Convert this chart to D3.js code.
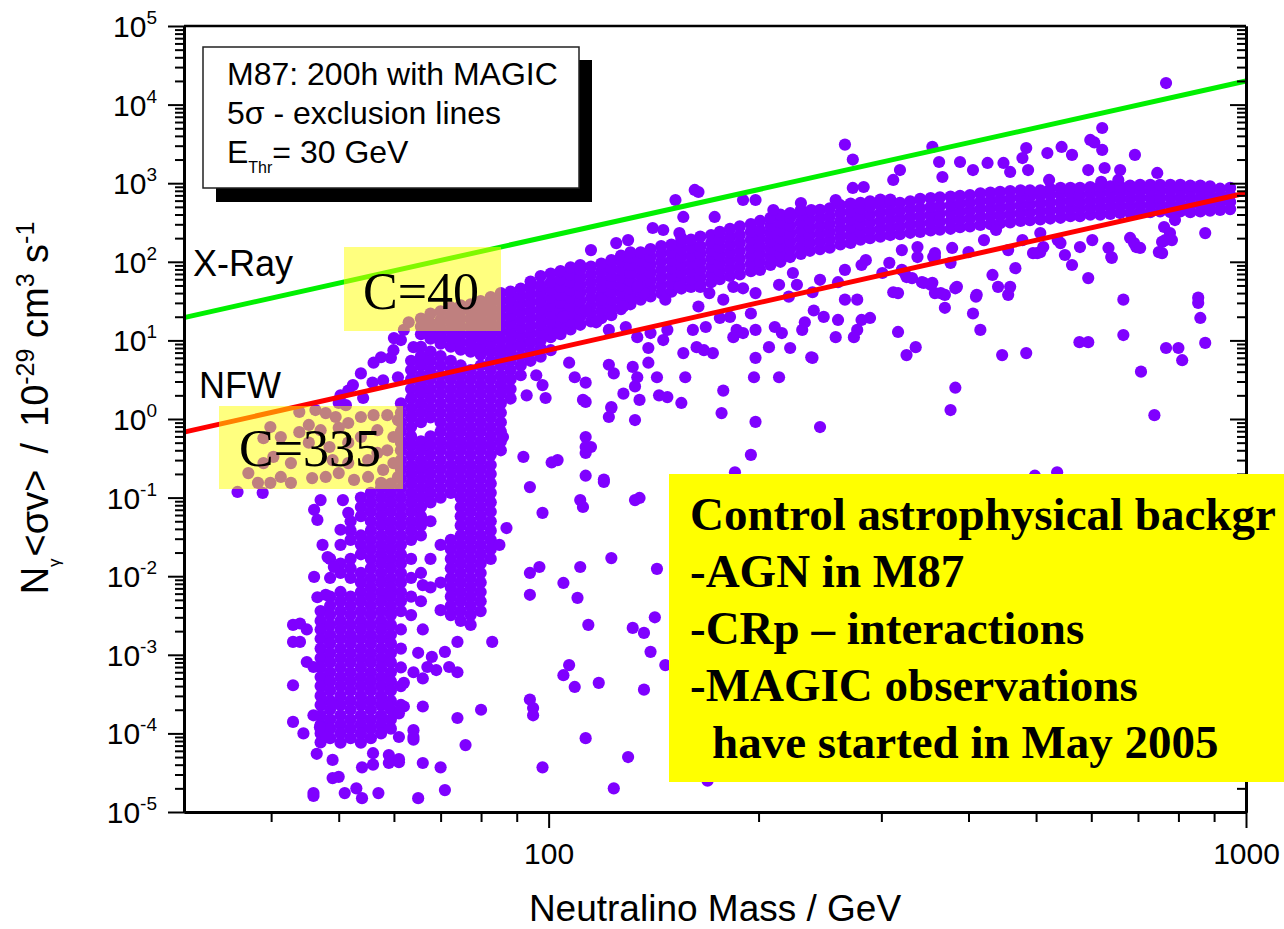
<!DOCTYPE html>
<html>
<head>
<meta charset="utf-8">
<script src="https://cdn.jsdelivr.net/npm/d3@7"></script>
<style>
  body { margin: 0; background: #fff; }
  svg { display: block; font-family: "Liberation Sans", Arial, sans-serif; }
</style>
</head>
<body>
<svg id="chart" width="1284" height="929"></svg>
<script>
// ---------------- data ----------------
// Neutralino mass (GeV) and N_gamma <sigma v> (10^-29 cm^3 s^-1)

// dense upper band: [mass, [values ...]]
const upperBand = [
  [65.6,[12,15,19]],
  [67.7,[10.5,13.2,16.6,21.9]],
  [70.0,[9.1,11.5,14.5,18.2,23.4]],
  [72.4,[8.3,10.5,13.2,16.6,20.9,26.3]],
  [74.8,[7.6,9.5,12,15.1,19.1,24,28]],
  [77.3,[7.2,9.1,11.5,14.5,18.2,22.9,28.8]],
  [79.9,[6.6,8.3,10.5,13.2,16.6,20.9,26.3,31.6]],
  [82.6,[7.2,9.1,11.5,14.5,18.2,22.9,28.8,35.5]],
  [85.4,[7.9,10,12.6,15.8,20,25,31.6,40]],
  [88.2,[8.3,10.5,13.2,16.6,20.9,26.3,33,41.7]],
  [91.2,[9.1,11.5,14.5,18.2,22.9,28.8,36.3,45.7]],
  [94.2,[9.5,12,15.1,19.1,24,30.2,38,47.9,56]],
  [97.4,[10,12.6,15.8,20,25,31.6,40,50,66]],
  [100.7,[11,13.8,17.4,21.9,27.5,34.7,43.7,55,71]],
  [104,[12,15.1,19.1,24,30.2,38,47.9,60,76]],
  [107.5,[13.8,17.4,21.9,27.5,34.7,43.7,55,69,85]],
  [111,[15.8,20,25,31.6,40,50,63,79,91]],
  [115,[17.4,21.9,27.5,34.7,43.7,55,69,87]],
  [119,[19.1,24,30.2,38,47.9,60,76,95]],
  [123,[20.9,26.3,33,41.7,52.5,66,83,105]],
  [127,[25,31.6,40,50,63,79,100,120]],
  [131,[28.8,36.3,45.7,57.5,72.4,91,115,132]],
  [135.5,[33,41.7,52.5,66,83,105,132]],
  [140,[36.3,45.7,57.5,72.4,91,115,145]],
  [145,[40,50,63,79,100,126,158]],
  [150,[41.7,52.5,66,83,105,132,166]],
  [155,[45.7,57.5,72.4,91,115,145,182,200]],
  [160,[47.9,60,76,95,120,151,191]],
  [165,[50,63,79,100,126,158,209]],
  [171,[55,69,87,110,138,174,219]],
  [176,[60,76,95,120,151,191,240]],
  [182,[66,83,105,132,166,209,263]],
  [188,[69,87,110,138,174,219,282]],
  [195,[76,95,120,151,191,240,302]],
  [201,[79,100,126,158,200,251,331]],
  [208,[91,115,145,182,229,288,363]],
  [215,[100,126,158,200,251,316,398]],
  [222,[115,145,182,229,288,363,417]],
  [230,[126,158,200,251,316,398,457]],
  [237,[138,174,219,275,347,437]],
  [245,[145,182,229,288,363,457]],
  [253,[151,191,240,302,380,479]],
  [262,[166,209,263,331,417,525]],
  [271,[174,219,275,347,437,550]],
  [280,[191,240,302,380,479,562]],
  [289,[200,251,316,398,501,589]],
  [299,[209,263,331,417,525,617]],
  [309,[219,275,347,437,550,617]],
  [319,[224,282,355,447,562]],
  [330,[234,295,372,468,589]],
  [341,[240,302,380,479,631]],
  [353,[251,316,398,501,646]],
  [364,[257,324,407,513,661]],
  [377,[263,331,417,525,676]],
  [389,[275,347,437,550,692]],
  [402,[282,355,447,562,708]],
  [416,[295,372,468,589,741]],
  [430,[302,380,479,603,759]],
  [444,[309,389,490,617,776]],
  [459,[316,398,501,631,794]],
  [475,[331,417,525,661,813]],
  [490,[339,427,537,676,813]],
  [507,[347,437,550,692,813]],
  [524,[355,447,562,708,851]],
  [542,[363,457,575,724,871]],
  [560,[380,479,603,759,871]],
  [578,[380,468,575,708,871]],
  [598,[398,490,603,741,891]],
  [618,[398,490,603,741,912]],
  [639,[407,501,617,759,912]],
  [660,[417,513,631,776,912]],
  [682,[417,513,631,776,933]],
  [705,[427,525,646,794,955]],
  [729,[427,525,646,794,955]],
  [753,[437,537,661,813,955]],
  [779,[427,525,646,794,955]],
  [805,[437,537,661,813,955]],
  [832,[427,525,646,794,933]],
  [860,[437,537,661,813,933]],
  [888,[447,550,676,832,912]],
  [918,[457,562,692,851]],
  [949,[468,575,708,871]]
];

// steep low-mass branch (funnel): [mass, [values ...]]
const funnelBand = [
  [47.1,[0.0036,0.0027,0.0021,0.0016,0.0012,0.00091,0.00069,0.00052,0.0004,0.0003,0.00023,0.00017,0.00013,0.0001,0.000077]],
  [48.6,[0.0166,0.0095,0.0055,0.0042,0.0032,0.0024,0.0018,0.0014,0.00105,0.0008,0.0006,0.00046,0.00035,0.00026,0.0002,0.00015,0.000115,0.000087]],
  [50.3,[0.025,0.0145,0.011,0.0063,0.0048,0.0036,0.0027,0.0021,0.0016,0.0012,0.00091,0.00069,0.00052,0.0004,0.0003,0.00023,0.00017,0.00013,0.0001,0.000076]],
  [52.0,[0.05,0.038,0.029,0.0166,0.0126,0.0095,0.0055,0.0042,0.0032,0.0024,0.0018,0.0014,0.00105,0.0008,0.0006,0.00046,0.00035,0.00026,0.0002,0.00015,0.000115,0.000087]],
  [53.8,[0.1,0.076,0.058,0.033,0.025,0.019,0.011,0.0083,0.0063,0.0048,0.0036,0.0027,0.0021,0.0016,0.0012,0.00091,0.00069,0.00052,0.0004,0.0003,0.00023,0.00017,0.00013,0.0001,0.000076]],
  [55.6,[0.115,0.087,0.066,0.05,0.038,0.029,0.022,0.0166,0.0126,0.0095,0.0072,0.0055,0.0042,0.0032,0.0024,0.0018,0.0014,0.00105,0.0008,0.0006,0.00046,0.00035,0.00026,0.0002,0.00015,0.000115,0.000087]],
  [57.5,[0.132,0.1,0.076,0.058,0.044,0.033,0.025,0.019,0.0145,0.011,0.0083,0.0063,0.0048,0.0036,0.0027,0.0021,0.0016,0.0012,0.00091,0.00069,0.00052,0.0004,0.0003,0.00023,0.00017,0.00013,0.0001]],
  [59.4,[0.151,0.115,0.087,0.066,0.05,0.038,0.029,0.022,0.0166,0.0126,0.0095,0.0072,0.0055,0.0042,0.0032,0.0024,0.0018,0.0014,0.00105,0.0008,0.0006,0.00046,0.00035,0.00026,0.0002,0.00015,0.000115]],
  [61.4,[1.58,1.2,0.91,0.69,0.52,0.4,0.3,0.23,0.174,0.132,0.1,0.076,0.058,0.044,0.033,0.025,0.019,0.0145,0.011,0.0083,0.0063,0.0048,0.0036,0.0021,0.0012,0.00069,0.0004,0.00023]],
  [63.5,[5.5,4.2,3.2,2.4,1.82,1.38,1.05,0.79,0.6,0.46,0.35,0.26,0.2,0.151,0.115,0.087,0.066,0.05,0.038,0.029,0.0166,0.0095,0.0055,0.0032]],
  [65.6,[8.3,6.3,4.8,3.6,2.75,2.1,1.58,1.2,0.91,0.52,0.4,0.3,0.23,0.174,0.132,0.1,0.076,0.058,0.044,0.033,0.011,0.0048]],
  [67.7,[7.2,5.5,4.2,3.2,2.4,1.82,1.38,1.05,0.6,0.46,0.35,0.26,0.2,0.151,0.115,0.087,0.05,0.0166,0.0072]],
  [70.0,[6.3,4.8,3.6,2.75,2.1,1.58,1.2,0.91,0.69,0.52,0.4,0.3,0.23,0.174,0.132,0.1,0.025,0.0083]],
  [72.4,[5.5,4.2,3.2,2.4,1.82,1.38,1.05,0.79,0.6,0.46,0.35,0.26,0.2,0.151,0.115,0.029,0.022,0.0166,0.0126,0.0095,0.0072,0.0055,0.0042,0.0032]],
  [74.8,[4.8,3.6,2.75,2.1,1.58,1.2,0.91,0.69,0.52,0.4,0.3,0.23,0.174,0.132,0.1,0.076,0.058,0.044,0.033,0.025,0.019,0.0145,0.011,0.0083,0.0063,0.0048,0.0036,0.0027]],
  [77.3,[4.2,3.2,2.4,1.82,1.38,1.05,0.79,0.6,0.46,0.35,0.26,0.2,0.151,0.115,0.087,0.066,0.05,0.038,0.029,0.022,0.0166,0.0126,0.0095,0.0072,0.0055,0.0042,0.0032,0.0024]],
  [79.9,[4.8,3.6,2.75,2.1,1.58,1.2,0.91,0.69,0.52,0.4,0.3,0.23,0.174,0.132,0.1,0.076,0.058,0.044,0.033,0.025,0.019,0.0145,0.011,0.0083,0.0063,0.0048,0.0036]],
  [82.6,[5.5,4.2,3.2,2.4,1.82,1.38,1.05,0.79,0.6,0.46,0.35,0.26,0.2,0.151,0.115,0.087,0.066,0.05,0.038,0.029,0.022,0.0166]],
  [85.4,[6.3,4.8,3.6,2.75,2.1,1.58,1.2,0.91,0.69,0.52,0.4]],
  [88.2,[7.2,5.5,4.2,3.2,2.4,1.82]],
  [91.2,[8.3,6.3,4.8,3.6]],
  [94.2,[9.5,7.2,5.5]],
  [97.4,[8,6.2]],
  [100.7,[7.5]]
];

// isolated models between the band and the X-ray line
const aboveBand = [
  [266,3100],[273,2000],[355,2900],[363,1860],[389,1860],[406,1470],[426,1810],[449,1810],
  [478,2090],[484,2800],[519,2420],[544,2890],[563,2290],[598,3550],[622,5040],[622,2650],
  [594,1470],[627,1560],[660,1470],[693,2290],[746,1350],[319,1470],[367,1200],[522,1100],
  [459,1390],[312,1100],[273,870],[283,895],[258,611],[162,820],[164,773],[152,611],[190,611],
  [198,611],[156,372],[173,372],[141,269],[146,254],[154,232],[125,173],[230,560],[238,456],
  [768,18800],[606,3300],[487,1470],[620,1040],[656,1100],[115,141],[130,189],[210,456]
];

// models below the band, around the NFW line
const belowBand = [
  [874,232],[696,154],[750,133],[641,115],[594,62],[550,122],[563,91],[507,133],[467,83],
  [441,48],[456,38],[433,68],[416,13.6],[406,22],[410,36],[383,46],[370,38],[370,26],[358,40],
  [355,54],[343,55],[358,115],[317,40],[326,64],[308,97],[289,19.3],[281,18.2],[277,13.6],
  [274,11],[266,33],[277,33],[258,11],[260,18.2],[248,19.9],[240,24],[233,17],[231,13.6],
  [222,8.0],[239,6.0],[216,12.4],[211,14.8],[207,8.2],[198,13.6],[198,6.0],[190,12.4],
  [186,13.6],[184,11],[195,22],[182,19.9],[176,19.3],[178,33],[172,6.9],[167,7.5],[163,8.2],
  [156,6.9],[161,13.6],[168,14.8],[148,13.6],[146,10.1],[140,12.4],[139,8.0],[134,11],
  [129,14.8],[122,13.6],[117,17],[107,5.2],[109,3.4],[113,2.9],[122,4.9],[124,3.8],[132,4.6],
  [134,3.4],[139,5.2],[143,3.4],[133,2.6],[128,2.1],[135,1.75],[144,2.0],[148,1.9],[155,1.6],
  [157,3.4],[113,1.65],[99,1.85],[123,1.42],[122,1.06],[133,0.97],[178,2.3],[177,1.19],
  [197,3.4],[198,0.92],[214,3.4],[245,0.79],[238,6.1],[326,6.5],[336,8.2],[317,12.8],[312,41],
  [383,2.5],[377,1.3],[447,6.5],[484,6.9],[577,9.5],[594,9.5],[667,33],[667,11.7],[707,4.0],
  [739,1.12],[768,8.0],[800,8.0],[810,5.6],[854,35],[854,30],[860,19.3],[874,9.3],[635,150],
  [691,173],[758,179],[791,340],[763,277],[778,232],[507,232],[537,189],[495,129],[421,189],
  [456,141],[400,133],[379,150],[358,129],[338,154],[321,141],[301,72],[321,79],[281,91],
  [285,105],[260,55],[266,79],[245,59],[239,41],[227,51],[221,36],[224,72],[214,51],[198,40],
  [190,46],[184,48],[165,48],[170,40],[164,27],[154,48],[147,33],[137,40],[134,48],[128,27],
  [119,33],[113,24],[105,19.9],[103,12.4],[438,254],[478,189],[682,201],[705,150],[766,189],
  [783,189],[758,129],[642,112],[602,189],[578,154],[542,173],[502,129],[512,154],[411,38],
  [385,48],[365,40],[353,51],[345,54],[332,62],[324,72],[377,97],[356,115],[338,115],[459,48]
];

// sparse models at low values, masses above ~85 GeV
const lowerRight = [
  [113,0.59],[113,0.44],[113,0.37],[103,0.30],[101,0.28],[195,0.35],[113,0.19],[120,0.17],
  [185,0.21],[536,0.21],[498,0.19],[135,0.099],[143,0.0124],[142,0.0030],[137,0.0019],
  [140,0.00109],[147,0.00074],[137,0.00036],[169,2.5e-5],[112,1.75],[123,1.38],[115,0.44],
  [120,0.158],[133,0.093],[111,0.093],[112,0.076],[98,0.064],[92,0.33],[86,0.59],[94,0.136],
  [87,0.041],[85,0.025],[123,0.017],[111,0.0131],[94,0.011],[97,0.0131],[105,0.0082],
  [94,0.0058],[110,0.0053],[114,0.0024],[132,0.0022],[83,0.00146],[107,0.00074],[105,0.00055],
  [109,0.00039],[118,0.00044],[94,0.00027],[95,0.00021],[95,0.00017],[80,0.0002],[74,0.000157],
  [113,8.7e-5],[130,5.0e-5],[98,3.7e-5],[124,2.0e-5],[96,3.6],[98,2.7],[93,2.0]
];

// sparse models at the low-mass, low-value end
const lowMassTail = [
  [76,7.1e-5],[71,1.9e-5],[70,3.7e-5],[66,4.2e-5],[65,1.5e-5],[72,0.0007],[69,0.00064],
  [66,0.0005],[66,0.00022],[64,0.00011],[64,9.0e-5],[62,0.00022],[61,9.0e-5],[61,0.00018],
  [61,4.3e-5],[59,5.3e-5],[57,1.74e-5],[56,5.6e-5],[56,4.0e-5],[54,3.7e-5],[54,1.5e-5],
  [53,2.0e-5],[51,1.74e-5],[49,2.7e-5],[49,4.6e-5],[48,9.0e-5],[46.5,5.5e-5],[46,1.74e-5],
  [44.5,1.0e-4],[43,1.4e-4],[43,4.1e-4],[45,0.00081],[46,0.0007],[43,0.00146],[44,0.00146],
  [43,0.0024],[44,0.0025],[45,0.0021],[46,0.00017],[46,1.6e-5],[47,0.00012],[49,0.00024],
  [50,2.8e-5],[59,4.2e-5],[61,4.7e-5],[64,8.3e-5],[74,0.0006],[71,0.00109],[74,0.00146],
  [68,0.00094],[65,0.00106],[67,0.0007],[64,0.0006],[62,0.00044],[59,0.00022],[66,0.0077],
  [70,0.0037],[66,0.0021]
];

// models around 35-65 GeV near the NFW line
const nearNfw = [
  [35.8,0.118],[38.9,0.115],[46.1,0.070],[47.1,0.093],[46.6,0.052],[47.4,0.025],[48.2,0.0175],
  [49.2,0.0131],[46.1,0.0098],[46.6,0.0054],[47.9,0.0058],[50.3,0.039],[51.6,0.064],[50.7,0.093],
  [43.9,1.23],[46.3,1.3],[47.9,1.19],[49.5,1.06],[45.3,0.84],[43.9,0.68],[47.1,0.72],[50.0,0.77],
  [51.6,0.89],[53.8,1.06],[56.1,1.12],[58.7,1.12],[60.8,0.97],[56.8,0.72],[59.9,0.59],[61.4,0.50],
  [58.7,0.40],[59.9,0.275],[57.9,0.225],[60.8,0.183],[55.1,0.183],[52.6,0.168],[50.0,0.205],
  [47.9,0.183],[45.8,0.177],[42.7,0.154],[41.3,0.183],[39.9,0.154],[38.3,0.154],[37.1,0.205],
  [39.0,0.275],[40.3,0.33],[42.7,0.275],[41.3,0.59],[39.0,0.57],[39.9,0.79],[45.3,0.50],
  [48.5,0.44],[51.6,0.50],[53.8,0.59],[55.1,0.30],[51.6,0.275],[49.0,0.30],[56.8,0.37],[57.5,0.154],
  [56.1,5.2],[57.5,6.1],[59.9,7.5],[64.0,8.2],[61.4,10.1],[53.8,3.8],[55.9,2.9],[57.9,3.1],
  [60.8,3.4],[51.6,2.3],[50.0,1.6],[59.4,6.0],[50.3,2.0],[52.4,2.7],[54.2,1.85],[51.2,1.5],
  [62,13.6],[60,10.7],[63,17]
];

// 5 sigma exclusion lines (end points)
const xrayLimit = [[30, 19.5], [1000, 20000]];
const nfwLimit  = [[30, 0.68], [1000, 750]];

// axis ticks
const yTickPowers = [-5, -4, -3, -2, -1, 0, 1, 2, 3, 4, 5];
const xTickLabels = [100, 1000];
const xMinorTicks = [40, 50, 60, 70, 80, 90, 200, 300, 400, 500, 600, 700, 800, 900];

// text blocks
const legendLines = ["M87: 200h with MAGIC", "5\u03c3 - exclusion lines"];
const noteLines = [
  "Control astrophysical backgr",
  "-AGN in M87",
  "-CRp \u2013 interactions",
  "-MAGIC observations",
  "have started in May 2005"
];

// ---------------- drawing ----------------
const SERIF = '"Liberation Serif", "Times New Roman", serif';
const svg = d3.select("#chart");
const x = d3.scaleLog().domain([30, 1000]).range([184, 1246]);
const y = d3.scaleLog().domain([1e-5, 1e5]).range([812, 26]);

const points = [];
[upperBand, funnelBand].forEach(cols =>
  cols.forEach(([m, vals]) => vals.forEach(v => points.push([m, v]))));
[aboveBand, belowBand, lowerRight, lowMassTail, nearNfw].forEach(arr =>
  arr.forEach(p => points.push(p)));

svg.append("g")
  .selectAll("circle")
  .data(points)
  .join("circle")
  .attr("cx", d => x(d[0]))
  .attr("cy", d => y(d[1]))
  .attr("r", 6.1)
  .attr("fill", "#7f00ff");

// exclusion lines
const line = d3.line().x(d => x(d[0])).y(d => y(d[1]));
svg.append("path").datum(xrayLimit).attr("d", line)
  .attr("fill", "none").attr("stroke", "#00f000").attr("stroke-width", 5);
svg.append("path").datum(nfwLimit).attr("d", line)
  .attr("fill", "none").attr("stroke", "#ff0000").attr("stroke-width", 5);

// axes
const yMajor = yTickPowers.map(p => Math.pow(10, p));
const yMinor = [];
yTickPowers.slice(0, -1).forEach(p => {
  for (let k = 2; k <= 9; k++) yMinor.push(k * Math.pow(10, p));
});

function frameAxis(g, width) {
  g.select(".domain").attr("stroke", "#000").attr("stroke-width", width);
  g.selectAll(".tick line").attr("stroke", "#000").attr("stroke-width", 2);
}

// left
svg.append("g").attr("transform", "translate(184,0)")
  .call(d3.axisLeft(y).tickValues(yMinor).tickSize(9).tickSizeOuter(0).tickFormat(""))
  .call(g => frameAxis(g, 3));
svg.append("g").attr("transform", "translate(184,0)")
  .call(d3.axisLeft(y).tickValues(yMajor).tickSize(16).tickSizeOuter(0).tickFormat(""))
  .call(g => frameAxis(g, 3));
// right (ticks pointing inward)
svg.append("g").attr("transform", "translate(1246,0)")
  .call(d3.axisLeft(y).tickValues(yMinor).tickSize(9).tickSizeOuter(0).tickFormat(""))
  .call(g => frameAxis(g, 3));
svg.append("g").attr("transform", "translate(1246,0)")
  .call(d3.axisLeft(y).tickValues(yMajor).tickSize(16).tickSizeOuter(0).tickFormat(""))
  .call(g => frameAxis(g, 3));
// bottom
svg.append("g").attr("transform", "translate(0,812)")
  .call(d3.axisBottom(x).tickValues(xMinorTicks).tickSize(10).tickSizeOuter(0).tickFormat(""))
  .call(g => frameAxis(g, 3));
svg.append("g").attr("transform", "translate(0,812)")
  .call(d3.axisBottom(x).tickValues(xTickLabels).tickSize(16).tickSizeOuter(0)
    .tickPadding(15).tickFormat(d3.format("d")))
  .call(g => frameAxis(g, 3))
  .call(g => g.selectAll("text")
    .attr("font-size", 30).attr("fill", "#000")
    .attr("font-family", '"Liberation Sans", Arial, sans-serif'));
// top frame
svg.append("line").attr("x1", 184).attr("x2", 1246).attr("y1", 26).attr("y2", 26)
  .attr("stroke", "#000").attr("stroke-width", 2.5);

// y tick labels with powers of ten
svg.append("g").selectAll("text")
  .data(yTickPowers)
  .join("text")
  .attr("x", 157)
  .attr("y", p => y(Math.pow(10, p)) + 11)
  .attr("text-anchor", "end")
  .attr("font-size", 30)
  .each(function (p) {
    const t = d3.select(this);
    t.append("tspan").text("10");
    t.append("tspan").attr("font-size", 19).attr("dy", -13).text(String(p));
  });

// axis titles
svg.append("text")
  .attr("x", 715).attr("y", 921)
  .attr("text-anchor", "middle")
  .attr("font-size", 37)
  .text("Neutralino Mass / GeV");

const yt = svg.append("text")
  .attr("transform", "translate(48,408) rotate(-90)")
  .attr("text-anchor", "middle")
  .attr("font-size", 38);
yt.append("tspan").text("N");
yt.append("tspan").attr("font-size", 17).attr("dy", 12).text("\u03b3");
yt.append("tspan").attr("dy", -12).attr("dx", 2).text("<\u03c3v>");
yt.append("tspan").attr("dx", 16).text("/");
yt.append("tspan").attr("dx", 16).text("10");
yt.append("tspan").attr("font-size", 25).attr("dy", -14).text("-29");
yt.append("tspan").attr("dy", 14).text(" cm");
yt.append("tspan").attr("font-size", 25).attr("dy", -14).text("3");
yt.append("tspan").attr("dy", 14).text(" s");
yt.append("tspan").attr("font-size", 25).attr("dy", -14).text("-1");

// line labels
svg.append("text").attr("x", 193).attr("y", 276).attr("font-size", 36).text("X-Ray");
svg.append("text").attr("x", 199).attr("y", 398).attr("font-size", 36).text("NFW");

// legend box with drop shadow
svg.append("rect").attr("x", 216).attr("y", 60).attr("width", 376).attr("height", 142).attr("fill", "#000");
svg.append("rect").attr("x", 203).attr("y", 47).attr("width", 376).attr("height", 141)
  .attr("fill", "#fff").attr("stroke", "#222").attr("stroke-width", 1.5);
svg.append("g").selectAll("text").data(legendLines).join("text")
  .attr("x", 227).attr("y", (d, i) => 85 + i * 39)
  .attr("font-size", 32).text(d => d);
const eth = svg.append("text").attr("x", 227).attr("y", 163).attr("font-size", 32);
eth.append("tspan").text("E");
eth.append("tspan").attr("font-size", 16).attr("dy", 10).text("Thr");
eth.append("tspan").attr("dy", -10).text("= 30 GeV");

// concentration labels on translucent boxes
const cBoxes = [
  { label: "C=40",  x: 344, y: 247, w: 157, h: 84, tx: 363, ty: 309 },
  { label: "C=335", x: 219, y: 406, w: 184, h: 83, tx: 239, ty: 466 }
];
svg.append("g").selectAll("rect").data(cBoxes).join("rect")
  .attr("x", d => d.x).attr("y", d => d.y).attr("width", d => d.w).attr("height", d => d.h)
  .attr("fill", "rgba(255,255,0,0.5)");
svg.append("g").selectAll("text").data(cBoxes).join("text")
  .attr("x", d => d.tx).attr("y", d => d.ty)
  .attr("font-family", SERIF)
  .attr("font-size", 52)
  .text(d => d.label);

// note box
svg.append("rect").attr("x", 669).attr("y", 474).attr("width", 615).attr("height", 308)
  .attr("fill", "#ffff00");
svg.append("g").selectAll("text").data(noteLines).join("text")
  .attr("x", (d, i) => i === 4 ? 712 : 690)
  .attr("y", (d, i) => 530 + i * 57)
  .attr("font-family", SERIF)
  .attr("font-weight", "bold")
  .attr("font-size", 47)
  .text(d => d);
</script>
</body>
</html>
